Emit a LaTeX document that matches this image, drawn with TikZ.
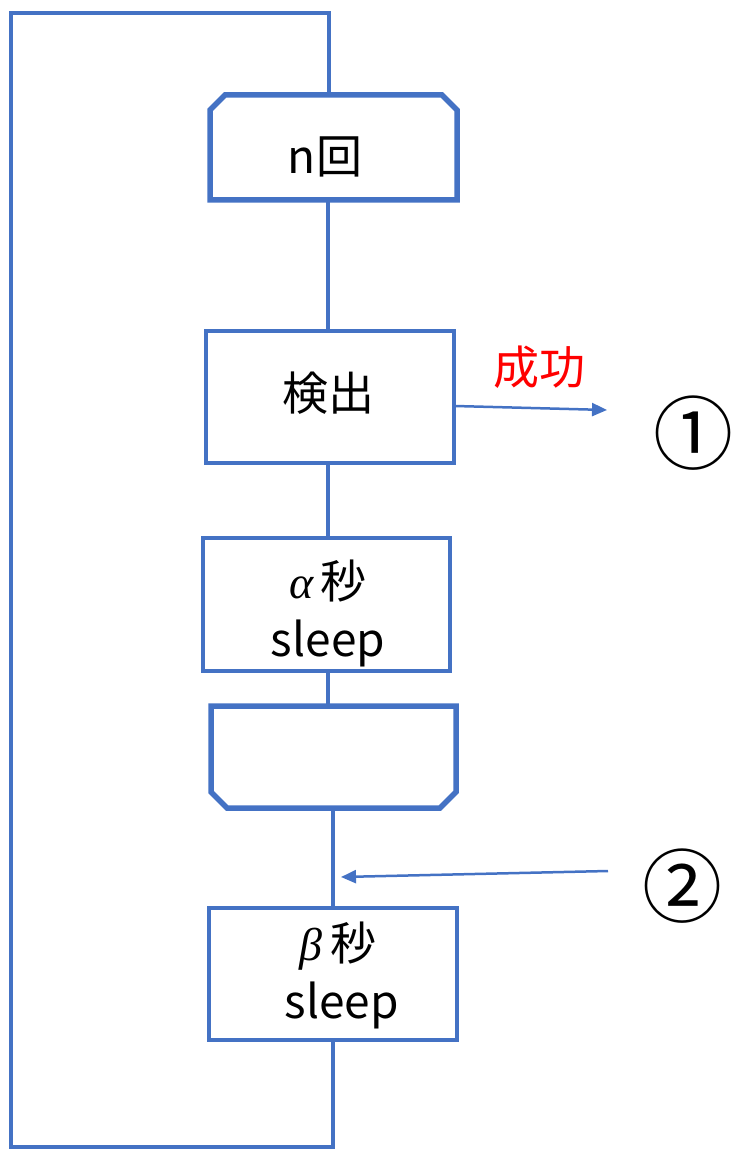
\documentclass[tikz,border=0pt]{standalone}
\usepackage{fontspec}
\setmainfont{Noto Sans CJK JP}
\newfontfamily\grkfont{Liberation Serif}
\usetikzlibrary{arrows.meta}
\definecolor{ublue}{HTML}{4472C4}
\begin{document}
\begin{tikzpicture}[x=1pt,y=-1pt,
  thinline/.style={draw=ublue,line width=3.2pt},
  thickline/.style={draw=ublue,line width=5.5pt},
  boxtxt/.style={font=\fontsize{46}{58}\selectfont,align=center},
  arr/.style={draw=ublue,line width=2.5pt,-{Triangle[length=15pt,width=13pt]}}]
\useasboundingbox (0,0) rectangle (731,1150);
% loop start (top corners chamfered)
\draw[thickline,line join=miter] (210,200) -- (210,110) -- (225,95) -- (442,95) -- (457,110) -- (457,200) -- cycle;
\node[boxtxt] (loopa) at (325,157) {n回};
% detect box
\draw[thinline] (206,331) rectangle (454,463);
\node[boxtxt] (detect) at (328,393) {検出};
% alpha sleep
\draw[thinline] (203,538) rectangle (450,671);
\node[boxtxt] (asleep) at (328,613) {{\grkfont\itshape α}\,秒\\sleep};
% loop end (bottom corners chamfered)
\draw[thickline,line join=miter] (211,706) -- (456,706) -- (456,792) -- (440,808) -- (227,808) -- (211,792) -- cycle;
% beta sleep
\draw[thinline] (209,908) rectangle (457,1040);
\node[boxtxt] (bsleep) at (338,975) {{\grkfont\itshape β}\,秒\\\,sleep};
% connectors
\coordinate (tl) at (11,13);
\coordinate (tr) at (329,13);
\coordinate (bl) at (11,1147);
\coordinate (br) at (333,1147);
\draw[thinline] (329,93) -- (tr) -- (tl) -- (bl) -- (br) -- (333,1040);
\draw[thinline] (328,200) -- (328,331);
\draw[thinline] (328,463) -- (328,538);
\draw[thinline] (328,671) -- (328,706);
\draw[thinline] (333,808) -- (333,908);
% success arrow
\coordinate (s1) at (455,406);
\coordinate (s2) at (607,410);
\draw[arr] (s1) -- (s2);
\node[text=red,font=\fontsize{46}{50}\selectfont] (succ) at (539,367) {成功};
\node[font=\fontsize{80}{80}\selectfont] (c1) at (693,433) {①};
% return arrow
\coordinate (r1) at (608,871);
\coordinate (r2) at (341,877);
\draw[arr] (r1) -- (r2);
\node[font=\fontsize{80}{80}\selectfont] (c2) at (682,886) {②};
\end{tikzpicture}
\end{document}
